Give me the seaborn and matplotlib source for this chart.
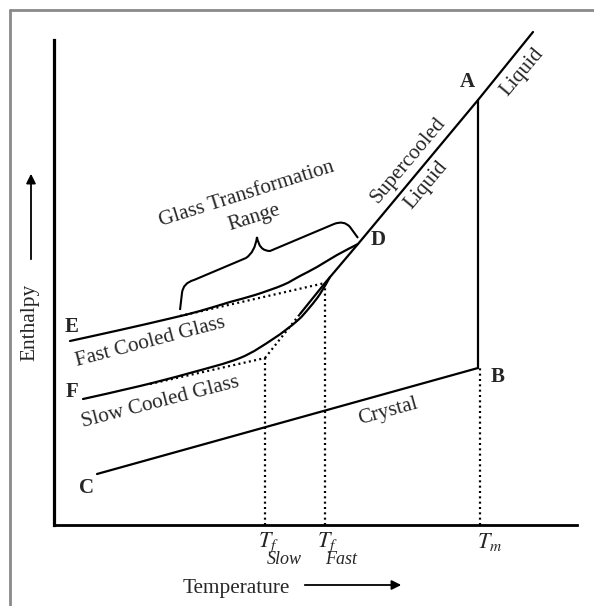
import matplotlib
matplotlib.use("Agg")
import numpy as np
import pandas as pd
import matplotlib.pyplot as plt
import seaborn as sns
from matplotlib.path import Path
from matplotlib.patches import PathPatch, FancyArrowPatch
from matplotlib.lines import Line2D

# ---------------- data (schematic units: temperature T, enthalpy H) ----------------
liquid_T = [246, 271, 304, 424, 479]
liquid_H = [211, 242, 281, 425, 493]
liquid_ext_T = [211, 246]
liquid_ext_H = [167, 211]

melt_T = [424, 424]
melt_H = [425, 157]

crystal_T = [43, 424]
crystal_H = [51, 157]

fast_T = [16, 66, 116, 146, 176, 201, 229, 246, 263, 283, 304]
fast_H = [184, 195, 206.5, 214, 223, 230, 240, 249, 258, 270, 281]
fast_ext_T = [126, 271]
fast_ext_H = [209, 242]

slow_T = [29, 86, 136, 186, 219, 243, 256, 266, 276]
slow_H = [126, 139, 152, 167, 186, 204, 218, 231, 248]
slow_ext_T = [96, 211]
slow_ext_H = [141, 167]

tf_T = [211, 271, 426]
tf_top = [167, 242, 157]
tf_main = [r"$T_f$", r"$T_f$", r"$T_m$"]
tf_sub = ["Slow", "Fast", ""]

point_labels = ["A", "B", "C", "D", "E", "F"]
point_T = [413, 444, 32, 324, 18, 18]
point_H = [443, 148, 37, 285, 198, 133]

# brace (Glass Transformation Range)
brace_T = [126, 128, 129, 140, 192, 201, 203, 205, 216, 280, 290, 296, 304]
brace_H = [215, 232, 242, 245, 267, 273, 288, 274, 274, 301, 305, 298, 287]

# ---------------- figure ----------------
sns.set_style("white")
plt.rcParams["font.family"] = ["Liberation Serif", "DejaVu Serif"]
plt.rcParams["mathtext.fontset"] = "stix"

W, Hh = 594, 606
fig = plt.figure(figsize=(W / 100, Hh / 100), dpi=100)
ax = fig.add_axes([54 / W, 81 / Hh, 523 / W, 495 / Hh])
ax.set_xlim(0, 523)
ax.set_ylim(0, 495)
ax.set_xticks([])
ax.set_yticks([])
for s in ["top", "right"]:
    ax.spines[s].set_visible(False)
ax.spines["left"].set_bounds(0, 485)
ax.spines["left"].set_linewidth(2.3)
ax.spines["bottom"].set_linewidth(2.0)
ax.spines["left"].set_color("black")
ax.spines["bottom"].set_color("black")

lw = 1.6
dot = (0, (0.9, 1.5))

def line(T, H, ls="-"):
    sns.lineplot(x=T, y=H, ax=ax, estimator=None, sort=False, color="black",
                 lw=lw, linestyle=ls, clip_on=False)

def smooth_curve(T, H):
    # draw a smooth (Catmull-Rom style) bezier path through the read points
    P = np.column_stack([T, H]).astype(float)
    ext = np.vstack([P[0], P, P[-1]])
    verts = [tuple(P[0])]
    codes = [Path.MOVETO]
    for i in range(1, len(ext) - 2):
        p0, p1, p2, p3 = ext[i - 1], ext[i], ext[i + 1], ext[i + 2]
        c1 = p1 + (p2 - p0) / 6.0
        c2 = p2 - (p3 - p1) / 6.0
        verts += [tuple(c1), tuple(c2), tuple(p2)]
        codes += [Path.CURVE4] * 3
    ax.add_patch(PathPatch(Path(verts, codes), facecolor="none",
                           edgecolor="black", lw=lw, capstyle="round"))

line(liquid_T, liquid_H)
line(liquid_ext_T, liquid_ext_H, dot)
line(melt_T, melt_H)
line(crystal_T, crystal_H)
smooth_curve(fast_T, fast_H)
line(fast_ext_T, fast_ext_H, dot)
smooth_curve(slow_T, slow_H)
line(slow_ext_T, slow_ext_H, dot)
for t, top in zip(tf_T, tf_top):
    line([t, t], [0, top], dot)

# brace
codes = [Path.MOVETO, Path.LINETO, Path.CURVE3, Path.CURVE3, Path.LINETO,
         Path.CURVE3, Path.CURVE3, Path.CURVE3, Path.CURVE3, Path.LINETO,
         Path.CURVE3, Path.CURVE3, Path.LINETO]
brace = Path(list(zip(brace_T, brace_H)), codes)
ax.add_patch(PathPatch(brace, facecolor="none", edgecolor="black", lw=1.5))

# point letters
for lab, t, h in zip(point_labels, point_T, point_H):
    ax.text(t, h, lab, fontsize=15, fontweight="bold", ha="center", va="center")

# rotated region labels
def rtext(t, h, s, rot, size=15.2):
    ax.text(t, h, s, rotation=rot, rotation_mode="anchor", ha="center",
            va="center", fontsize=size)

rtext(96, 183, "Fast Cooled Glass", 14.7)
rtext(106, 123, "Slow Cooled Glass", 14.5)
rtext(334, 113, "Crystal", 15.5)
rtext(354, 365, "Supercooled", 50)
rtext(372, 340, "Liquid", 50)
rtext(468, 453, "Liquid", 50)
rtext(193, 331, "Glass Transformation", 17.5)
rtext(200, 307, "Range", 17.5)

# x "tick" labels
offsets = [-5, -6, -2]
for t, lab, sub, off in zip(tf_T, tf_main, tf_sub, offsets):
    ax.annotate(lab, xy=(t, 0), xycoords="data", xytext=(off, -4),
                textcoords="offset points", ha="left", va="top", fontsize=16)
    if sub:
        ax.annotate(sub, xy=(t, 0), xycoords="data", xytext=(off + 6, -19),
                    textcoords="offset points", ha="left", va="top",
                    fontsize=13, style="italic")

# axis titles with arrows
fig.text(236 / W, 1 - 588 / Hh, "Temperature", ha="center", va="center", fontsize=15.3)
fig.text(30 / W, 1 - 322 / Hh, "Enthalpy", ha="center", va="center",
         rotation=90, fontsize=15.3)
fig.add_artist(FancyArrowPatch((302 / W, 1 - 585 / Hh), (404 / W, 1 - 585 / Hh),
                               transform=fig.transFigure, arrowstyle="-|>",
                               mutation_scale=14, color="black", lw=1.3))
fig.add_artist(FancyArrowPatch((31 / W, 1 - 262 / Hh), (31 / W, 1 - 171 / Hh),
                               transform=fig.transFigure, arrowstyle="-|>",
                               mutation_scale=14, color="black", lw=1.3))

# outer gray frame (left and top edges)
fig.add_artist(Line2D([10 / W, 10 / W], [0, 1 - 10 / Hh], transform=fig.transFigure,
                      color="#8a8a8a", lw=2.0))
fig.add_artist(Line2D([10 / W, 1], [1 - 10 / Hh, 1 - 10 / Hh], transform=fig.transFigure,
                      color="#8a8a8a", lw=2.0))

fig.savefig("out.png", dpi=100)
